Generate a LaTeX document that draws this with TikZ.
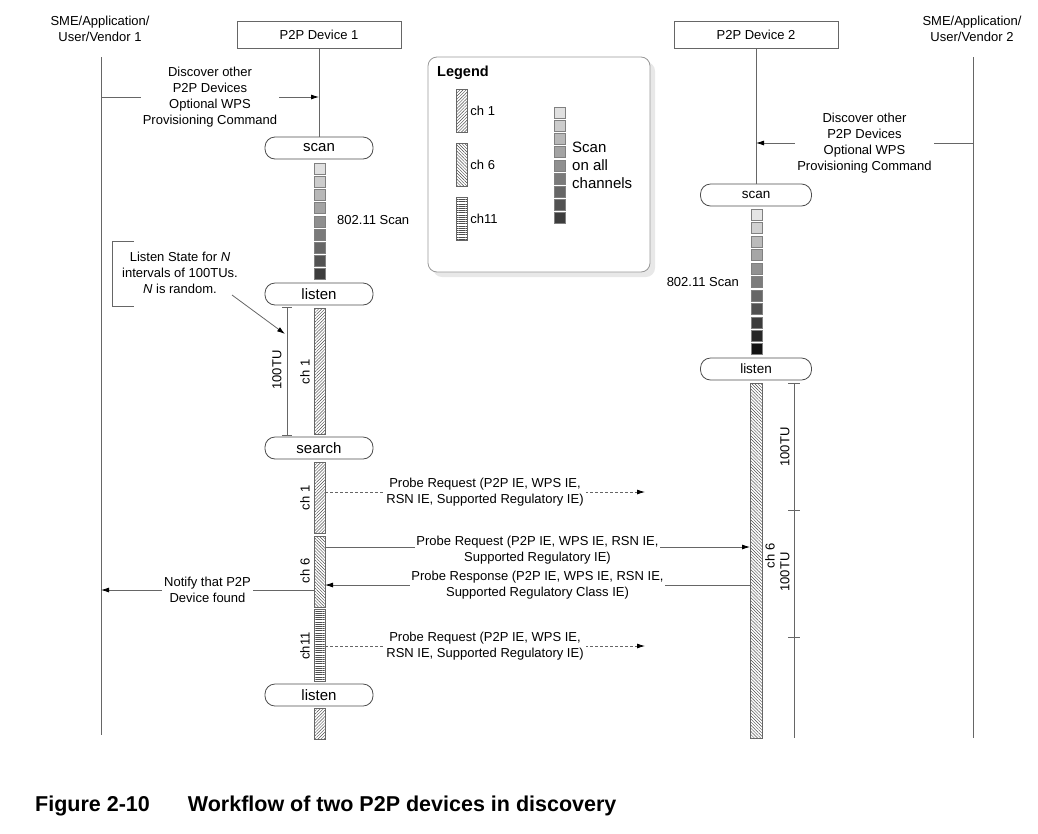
\documentclass[tikz,border=0pt]{standalone}
\usepackage{fontspec}
\setmainfont{Liberation Sans}
\usetikzlibrary{arrows.meta,patterns.meta,shadows}

\tikzset{
  base/.style={font=\fontsize{13}{16}\selectfont, align=center, inner sep=1pt},
  devbox/.style={draw=black!60, line width=0.8pt, minimum width=164, minimum height=27, font=\fontsize{13}{16}\selectfont},
  stbox/.style={draw=black!70, line width=0.8pt, rounded corners=10pt, minimum width=108, minimum height=22, inner sep=0pt, font=\fontsize{15}{16}\selectfont},
  life/.style={draw=black!60, line width=0.8pt},
  msg/.style={draw=black!60, line width=0.8pt, -{Latex[length=8pt,width=5pt,black]}},
  dmsg/.style={msg, dash pattern=on 3pt off 2pt},
  lbl/.style={base, fill=white, inner sep=2pt},
  sq/.style={draw=black!50, line width=0.6pt, minimum width=11, minimum height=11, inner sep=0pt},
  chbar/.style={draw=black!60, line width=0.6pt, minimum width=11, inner sep=0pt, pattern color=black!70},
  pone/.style={chbar, pattern={Lines[angle=45,distance=2.2pt,line width=0.45pt]}},
  psix/.style={chbar, pattern={Lines[angle=-45,distance=2.2pt,line width=0.45pt]}},
  peleven/.style={chbar, pattern={Lines[angle=0,distance=2.2pt,line width=0.45pt]}},
}

\begin{document}
\begin{tikzpicture}[x=1pt,y=-1pt]
  \useasboundingbox (0,0) rectangle (1038,833);

  % actors
  \node[base] (sme1) at (100,29) {SME/Application/\\User/Vendor 1};
  \node[base] (sme2) at (972,29) {SME/Application/\\User/Vendor 2};
  \node[devbox] (dev1) at (319,35) {P2P Device 1};
  \node[devbox] (dev2) at (756,35) {P2P Device 2};
  \coordinate (sme1top) at (101,57);
  \coordinate (sme1bot) at (101,735);
  \coordinate (sme2top) at (973,57);
  \coordinate (sme2bot) at (973,738);
  \draw[life] (sme1top) -- (sme1bot);
  \draw[life] (sme2top) -- (sme2bot);

  % legend
  \node[draw=black!40, line width=0.8pt, fill=white, rounded corners=9pt, minimum width=222, minimum height=215,
        drop shadow={shadow xshift=5pt, shadow yshift=-5pt, fill=black!18}] (legend) at (539,164.5) {};
  \node[anchor=west, font=\bfseries\fontsize{14.5}{16}\selectfont, inner sep=0pt] (legtitle) at (437,73) {Legend};
  \node[pone, minimum height=43] (lg1) at (461.5,110.5) {};
  \node[psix, minimum height=43] (lg6) at (461.5,164.5) {};
  \node[peleven, minimum height=43] (lg11) at (461.5,219) {};
  \node[base, anchor=west, xshift=2pt] (lgt1) at (lg1.east) {ch 1};
  \node[base, anchor=west, xshift=2pt] (lgt6) at (lg6.east) {ch 6};
  \node[base, anchor=west, xshift=2pt] (lgt11) at (lg11.east) {ch11};
  \foreach \i in {0,...,8} {
    \pgfmathsetmacro{\shade}{12+\i*8}
    \node[sq, fill=black!\shade] (lgsq\i) at (559.5,112.6+\i*13.2) {};
  }
  \node[anchor=west, align=left, font=\fontsize{15}{18}\selectfont, inner sep=0pt] (lgscan) at (572,165) {Scan\\on all\\channels};

  % P2P Device 1
  \node[stbox] (scan1) at (319,148) {scan};
  \draw[life] (dev1) -- (scan1);
  \foreach \i in {0,...,8} {
    \pgfmathsetmacro{\shade}{12+\i*8}
    \node[sq, fill=black!\shade] (sqa\i) at (319.5,168.5+\i*13.2) {};
  }
  \node[base, anchor=west] (scantxt1) at (336,220) {802.11 Scan};
  \node[stbox] (listen1) at (319,294) {listen};
  \node[pone, minimum height=126] (bar1) at (319.5,371) {};
  \node[base, rotate=90] (bar1t) at (305,372) {ch 1};
  \node[stbox] (search1) at (319,448) {search};
  \node[pone, minimum height=71] (bar2) at (319.5,497.5) {};
  \node[base, rotate=90] (bar2t) at (305,498) {ch 1};
  \node[psix, minimum height=71] (bar3) at (319.5,571.5) {};
  \node[base, rotate=90] (bar3t) at (305,571) {ch 6};
  \node[peleven, minimum height=72] (bar4) at (319.5,645) {};
  \node[base, rotate=90] (bar4t) at (305,646) {ch11};
  \node[stbox] (listen2) at (319,695) {listen};
  \node[pone, minimum height=31] (bar5) at (319.5,723.5) {};

  % listen interval
  \coordinate (tutop) at (287,307);
  \coordinate (tubot) at (287,435);
  \draw[life] (tutop) -- (tubot);
  \draw[life] ([xshift=-5pt]tutop) -- ([xshift=5pt]tutop);
  \draw[life] ([xshift=-5pt]tubot) -- ([xshift=5pt]tubot);
  \node[base, rotate=90] (tu1) at (277,370) {100TU};
  \draw[life] (134,241) -- (112,241) -- (112,306) -- (134,306);
  \node[base] (listennote) at (180,273) {Listen State for \textit{N}\\intervals of 100TUs.\\\textit{N} is random.};
  \coordinate (notefrom) at (232,295);
  \coordinate (noteto) at (285,334);
  \draw[msg] (notefrom) -- (noteto);

  % P2P Device 2
  \node[stbox, minimum width=111, font=\fontsize{13.5}{16}\selectfont] (scan2) at (756,195) {scan};
  \draw[life] (dev2) -- (scan2);
  \foreach \i in {0,...,10} {
    \pgfmathsetmacro{\shade}{10+\i*8.3}
    \node[sq, fill=black!\shade] (sqb\i) at (756.5,214.7+\i*13.45) {};
  }
  \node[base, anchor=east] (scantxt2) at (740,282) {802.11 Scan};
  \node[stbox, minimum width=111, font=\fontsize{13.5}{16}\selectfont] (listen3) at (756,369) {listen};
  \node[psix, minimum width=12, minimum height=355] (bar6) at (756,560.5) {};
  \node[base, rotate=90] (bar6t) at (770,556) {ch 6};
  \coordinate (tu2top) at (794,383);
  \coordinate (tu2bot) at (794,738);
  \draw[life] (tu2top) -- (tu2bot);
  \foreach \t in {383,510,637}
    \draw[life] (788,\t) -- (800,\t);
  \node[base, rotate=90] (tu2) at (785,447) {100TU};
  \node[base, rotate=90] (tu3) at (785,572) {100TU};

  % messages
  \coordinate (d1a) at (101,97);
  \coordinate (d1b) at (319,97);
  \draw[msg] (d1a) -- node[lbl] (disc1) {Discover other\\P2P Devices\\Optional WPS\\Provisioning Command} (d1b);
  \coordinate (d2a) at (973,143);
  \coordinate (d2b) at (756,143);
  \draw[msg] (d2a) -- node[lbl] (disc2) {Discover other\\P2P Devices\\Optional WPS\\Provisioning Command} (d2b);
  \coordinate (r1a) at (325,492);
  \coordinate (r1b) at (645,492);
  \draw[dmsg] (r1a) -- node[lbl] (req1) {Probe Request (P2P IE, WPS IE,\\RSN IE, Supported Regulatory IE)} (r1b);
  \coordinate (r2a) at (325,547);
  \coordinate (r2b) at (750,547);
  \draw[msg] (r2a) -- node[lbl, inner sep=1pt, yshift=-3pt] (req2) {Probe Request (P2P IE, WPS IE, RSN IE,\\Supported Regulatory IE)} (r2b);
  \coordinate (rsa) at (750,585);
  \coordinate (rsb) at (325,585);
  \draw[msg] (rsa) -- node[lbl, inner sep=1pt] (resp) {Probe Response (P2P IE, WPS IE, RSN IE,\\Supported Regulatory Class IE)} (rsb);
  \coordinate (nfa) at (314,590);
  \coordinate (nfb) at (101,590);
  \draw[msg] (nfa) -- node[lbl] (notify) {Notify that P2P\\Device found} (nfb);
  \coordinate (r3a) at (325,646);
  \coordinate (r3b) at (645,646);
  \draw[dmsg] (r3a) -- node[lbl] (req3) {Probe Request (P2P IE, WPS IE,\\RSN IE, Supported Regulatory IE)} (r3b);

  % caption
  \node[anchor=base west, font=\bfseries\fontsize{21.5}{24}\selectfont, inner sep=0pt] (caption) at (35,811)
    {Figure 2-10\hspace{38pt}Workflow of two P2P devices in discovery};
\end{tikzpicture}
\end{document}
